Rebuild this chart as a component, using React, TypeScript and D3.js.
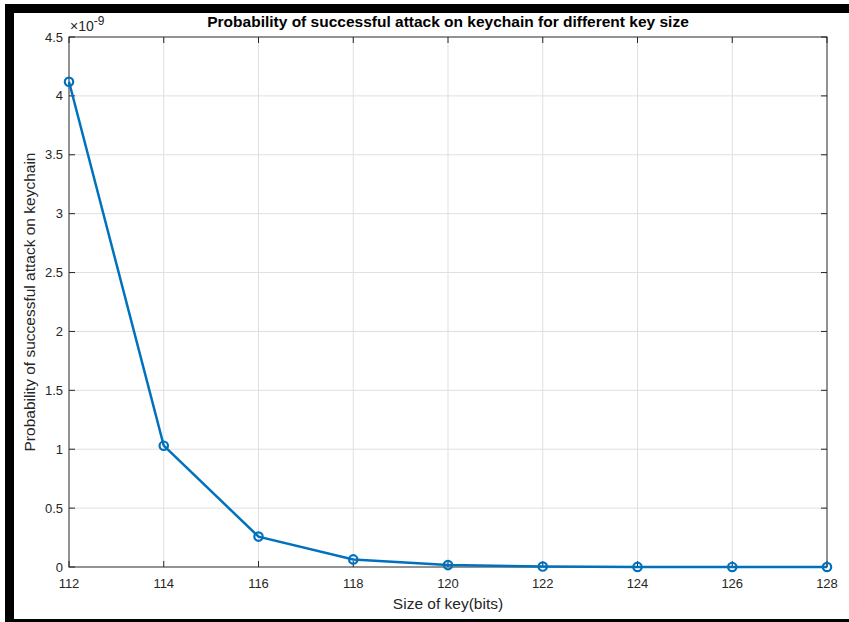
import React, { useEffect, useRef } from 'react';
import * as d3 from 'd3';

const keySizes = [112, 114, 116, 118, 120, 122, 124, 126, 128];
const probScaled = [4.12, 1.03, 0.258, 0.0645, 0.0161, 0.004, 0.001, 0.00025, 0.00006];
const xTicks = [112, 114, 116, 118, 120, 122, 124, 126, 128];
const yTicks = [0, 0.5, 1, 1.5, 2, 2.5, 3, 3.5, 4, 4.5];

const W = 849;
const H = 622;
const margin = { top: 37, right: 22, bottom: 55, left: 69 };
const font = '"Liberation Sans", Arial, Helvetica, sans-serif';

const App = () => {
  const ref = useRef<SVGSVGElement>(null);

  useEffect(() => {
    const svg = d3.select(ref.current);
    svg.selectAll('*').remove();

    const x = d3.scaleLinear().domain([112, 128]).range([margin.left, W - margin.right]);
    const y = d3.scaleLinear().domain([0, 4.5]).range([H - margin.bottom, margin.top]);

    svg.append('rect').attr('width', W).attr('height', H).attr('fill', '#ffffff');

    // screenshot frame
    svg.append('rect').attr('x', 5).attr('y', 4).attr('width', W - 5).attr('height', 9).attr('fill', '#000');
    svg.append('rect').attr('x', 5).attr('y', 4).attr('width', 9).attr('height', H - 4).attr('fill', '#000');
    svg.append('rect').attr('x', 5).attr('y', 619).attr('width', W - 5).attr('height', 3).attr('fill', '#000');

    const x0 = x(112), x1 = x(128), y0 = y(0), y1 = y(4.5);

    // grid
    const grid = svg.append('g').attr('stroke', '#dfdfdf').attr('stroke-width', 1);
    xTicks.slice(1, -1).forEach((t) => {
      grid.append('line').attr('x1', x(t)).attr('x2', x(t)).attr('y1', y0).attr('y2', y1);
    });
    yTicks.slice(1, -1).forEach((t) => {
      grid.append('line').attr('x1', x0).attr('x2', x1).attr('y1', y(t)).attr('y2', y(t));
    });

    // box + ticks
    const ax = svg.append('g').attr('stroke', '#262626').attr('stroke-width', 1).attr('fill', 'none');
    ax.append('rect').attr('x', x0).attr('y', y1).attr('width', x1 - x0).attr('height', y0 - y1);
    xTicks.forEach((t) => {
      ax.append('line').attr('x1', x(t)).attr('x2', x(t)).attr('y1', y0).attr('y2', y0 - 6);
      ax.append('line').attr('x1', x(t)).attr('x2', x(t)).attr('y1', y1).attr('y2', y1 + 6);
    });
    yTicks.forEach((t) => {
      ax.append('line').attr('x1', x0).attr('x2', x0 + 6).attr('y1', y(t)).attr('y2', y(t));
      ax.append('line').attr('x1', x1).attr('x2', x1 - 6).attr('y1', y(t)).attr('y2', y(t));
    });

    // tick labels
    svg.append('g').selectAll('text').data(xTicks).join('text')
      .attr('x', (d) => x(d)).attr('y', y0 + 21)
      .attr('text-anchor', 'middle')
      .attr('font-family', font).attr('font-size', 13).attr('fill', '#262626')
      .text((d) => d);
    svg.append('g').selectAll('text').data(yTicks).join('text')
      .attr('x', x0 - 6).attr('y', (d) => y(d) + 4.5)
      .attr('text-anchor', 'end')
      .attr('font-family', font).attr('font-size', 13).attr('fill', '#262626')
      .text((d) => d);

    // exponent
    const exp = svg.append('text').attr('x', x0 + 1).attr('y', y1 - 6)
      .attr('font-family', font).attr('font-size', 14).attr('fill', '#262626');
    exp.append('tspan').text('\u00d710');
    exp.append('tspan').attr('dy', -6).attr('font-size', 12).text('-9');

    // line + markers
    const pts = keySizes.map((k, i) => [k, probScaled[i]] as [number, number]);
    const line = d3.line<[number, number]>().x((d) => x(d[0])).y((d) => y(d[1]));
    svg.append('path').attr('d', line(pts)).attr('fill', 'none')
      .attr('stroke', '#0072BD').attr('stroke-width', 2.5);
    svg.append('g').selectAll('circle').data(pts).join('circle')
      .attr('cx', (d) => x(d[0])).attr('cy', (d) => y(d[1])).attr('r', 4.2)
      .attr('fill', 'none').attr('stroke', '#0072BD').attr('stroke-width', 2.2);

    // title & labels
    svg.append('text').attr('x', (x0 + x1) / 2).attr('y', 27)
      .attr('text-anchor', 'middle').attr('font-family', font)
      .attr('font-size', 15.5).attr('font-weight', 'bold').attr('fill', '#000')
      .text('Probability of successful attack on keychain for different key size');
    svg.append('text').attr('x', (x0 + x1) / 2).attr('y', 609)
      .attr('text-anchor', 'middle').attr('font-family', font)
      .attr('font-size', 15.5).attr('fill', '#262626')
      .text('Size of key(bits)');
    svg.append('text')
      .attr('transform', `translate(35, ${(y0 + y1) / 2}) rotate(-90)`)
      .attr('text-anchor', 'middle').attr('font-family', font)
      .attr('font-size', 15.5).attr('fill', '#262626')
      .text('Probability of successful attack on keychain');
  }, []);

  return (
    <svg ref={ref} width={W} height={H}
      style={{ position: 'absolute', left: 0, top: 0, display: 'block' }} />
  );
};

export default App;
